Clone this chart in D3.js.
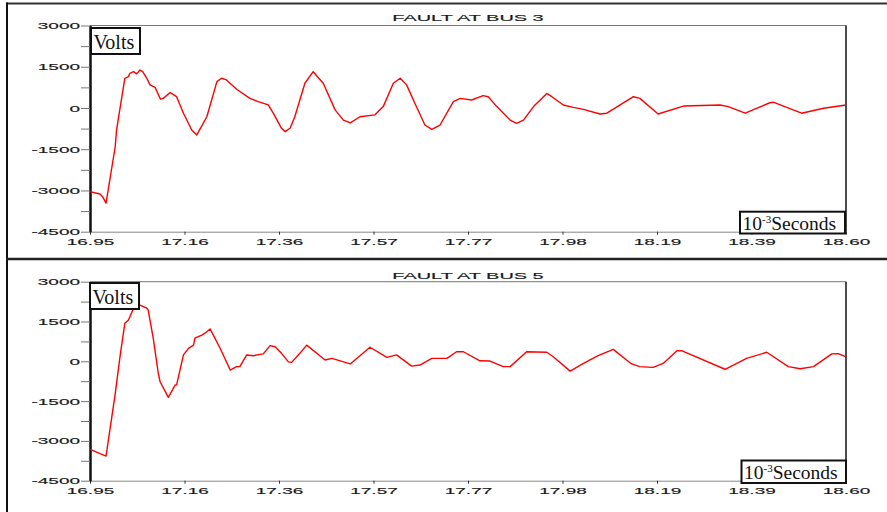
<!DOCTYPE html>
<html>
<head>
<meta charset="utf-8">
<script src="https://cdn.jsdelivr.net/npm/d3@7"></script>
<style>
  body { margin: 0; background: #fff; }
  svg { display: block; }
</style>
</head>
<body>
<svg id="chart" width="887" height="512"></svg>
<script>
// Time axis (10^-3 s) tick positions and their printed labels
const xTickValues = [16.95, 17.15625, 17.3625, 17.56875, 17.775, 17.98125, 18.1875, 18.39375, 18.60];
const xTickLabels = ["16.95", "17.16", "17.36", "17.57", "17.77", "17.98", "18.19", "18.39", "18.60"];

// Voltage axis ticks: labelled majors and unlabelled minors
const yMajorTicks = [-4500, -3000, -1500, 0, 1500, 3000];
const yMinorTicks = [-3750, -2250, -750, 750, 2250];

// Voltage samples [time, volts] for a fault at bus 3
const bus3Samples = [
  [16.950, -3040], [16.972, -3130], [16.978, -3240], [16.985, -3460], [17.005, -1410], [17.008, -800],
  [17.026, 1080], [17.034, 1140], [17.037, 1260], [17.045, 1320], [17.052, 1240], [17.059, 1380],
  [17.065, 1320], [17.074, 1080], [17.081, 840], [17.092, 750], [17.104, 320], [17.110, 350],
  [17.125, 560], [17.139, 410], [17.154, -190], [17.172, -800], [17.183, -980], [17.197, -560],
  [17.205, -320], [17.227, 960], [17.237, 1080], [17.248, 1020], [17.270, 680], [17.299, 350],
  [17.317, 230], [17.339, 110], [17.350, -190], [17.368, -740], [17.376, -860], [17.387, -730],
  [17.397, -320], [17.419, 900], [17.437, 1320], [17.459, 900], [17.485, -70], [17.503, -440],
  [17.518, -540], [17.539, -320], [17.572, -250], [17.590, 50], [17.612, 900], [17.627, 1080],
  [17.641, 840], [17.659, 170], [17.681, -620], [17.696, -780], [17.714, -620], [17.743, 230],
  [17.758, 350], [17.783, 290], [17.808, 450], [17.819, 410], [17.838, 50], [17.867, -440],
  [17.881, -560], [17.896, -440], [17.918, 50], [17.947, 530], [17.958, 410], [17.983, 110],
  [18.005, 20], [18.027, -50], [18.063, -220], [18.078, -190], [18.136, 410], [18.150, 350],
  [18.190, -220], [18.245, 70], [18.325, 110], [18.343, 50], [18.380, -190], [18.434, 190],
  [18.441, 210], [18.503, -190], [18.551, -10], [18.600, 110]
];

// Voltage samples [time, volts] for a fault at bus 5
const bus5Samples = [
  [16.950, -3320], [16.985, -3570], [17.005, -1230], [17.016, 240], [17.026, 1430], [17.034, 1560],
  [17.045, 2000], [17.053, 2200], [17.059, 2120], [17.074, 2000], [17.077, 1930], [17.088, 870],
  [17.099, -450], [17.103, -770], [17.121, -1360], [17.136, -890], [17.139, -890], [17.154, 240],
  [17.165, 490], [17.176, 610], [17.179, 870], [17.194, 990], [17.201, 1060], [17.212, 1220],
  [17.234, 490], [17.256, -330], [17.270, -200], [17.277, -200], [17.292, 240], [17.306, 210],
  [17.321, 260], [17.328, 280], [17.343, 590], [17.354, 550], [17.368, 300], [17.383, -20],
  [17.390, -40], [17.408, 300], [17.423, 610], [17.463, 50], [17.478, 110], [17.518, -100],
  [17.561, 530], [17.598, 150], [17.619, 240], [17.652, -180], [17.670, -140], [17.696, 110],
  [17.729, 110], [17.750, 360], [17.765, 360], [17.801, 20], [17.823, 10], [17.852, -200],
  [17.867, -200], [17.903, 360], [17.947, 340], [17.961, 170], [17.998, -370], [18.027, -80],
  [18.059, 210], [18.092, 450], [18.132, -100], [18.150, -200], [18.179, -230], [18.201, -80],
  [18.231, 400], [18.241, 400], [18.336, -300], [18.383, 110], [18.427, 340], [18.474, -200],
  [18.500, -280], [18.529, -200], [18.569, 280], [18.583, 290], [18.600, 170]
];

const panels = [
  { title: "FAULT AT BUS 3", samples: bus3Samples, top: 25.5, bottom: 231.7, titleY: 21,
    volts: { x: 91, y: 28, w: 49, h: 26 }, secs: { x: 740, y: 211.7, w: 105, h: 21.8 } },
  { title: "FAULT AT BUS 5", samples: bus5Samples, top: 281.7, bottom: 480.7, titleY: 278.5,
    volts: { x: 90, y: 283, w: 49, h: 26 }, secs: { x: 741.5, y: 460.5, w: 104.5, h: 22.5 } }
];

const left = 90, right = 846;
const sansFont = "'Liberation Sans', Arial, Helvetica, sans-serif";
const serifFont = "'Liberation Serif', 'Times New Roman', serif";
const stretch = 2.0;

const svg = d3.select("#chart");
svg.append("rect").attr("width", 887).attr("height", 512).attr("fill", "#fff");

// Outer frame of the figure
svg.append("line").attr("x1", 6).attr("x2", 887).attr("y1", 3.5).attr("y2", 3.5)
  .attr("stroke", "#333").attr("stroke-width", 2);
svg.append("line").attr("x1", 7).attr("x2", 7).attr("y1", 2.5).attr("y2", 512)
  .attr("stroke", "#111").attr("stroke-width", 2);
svg.append("line").attr("x1", 6).attr("x2", 887).attr("y1", 259).attr("y2", 259)
  .attr("stroke", "#222").attr("stroke-width", 2.5);

panels.forEach(p => {
  const x = d3.scaleLinear().domain([16.95, 18.60]).range([left, right]);
  const y = d3.scaleLinear().domain([-4500, 3000]).range([p.bottom, p.top]);
  const g = svg.append("g");

  // Panel title, wide sans lettering
  g.append("g").attr("transform", `translate(468,${p.titleY})`)
    .append("text")
    .attr("transform", "scale(2.1,1)")
    .attr("text-anchor", "middle")
    .attr("font-family", sansFont).attr("font-size", 9.5).attr("fill", "#1a1a1a")
    .attr("stroke", "#1a1a1a").attr("stroke-width", 0.15)
    .text(p.title);

  // Plot frame: top edge and right edge
  g.append("line").attr("x1", left).attr("x2", right).attr("y1", p.top).attr("y2", p.top)
    .attr("stroke", "#777").attr("stroke-width", 1);
  g.append("line").attr("x1", right).attr("x2", right).attr("y1", p.top).attr("y2", p.bottom)
    .attr("stroke", "#111").attr("stroke-width", 1.5);

  // Time axis
  const xAxis = g.append("g").attr("transform", `translate(0,${p.bottom})`)
    .call(d3.axisBottom(x).tickValues(xTickValues)
      .tickFormat((d, i) => xTickLabels[i]).tickSizeInner(3).tickSizeOuter(0));
  xAxis.select(".domain").attr("stroke", "#888").attr("stroke-width", 1);
  xAxis.selectAll(".tick line").attr("stroke", "#333");
  xAxis.selectAll(".tick text")
    .attr("y", 7).attr("dy", "0.71em")
    .attr("transform", `scale(${stretch},1)`)
    .attr("font-family", sansFont).attr("font-size", 9.5).attr("fill", "#1a1a1a")
    .attr("stroke", "#1a1a1a").attr("stroke-width", 0.15);

  // Voltage axis
  const allY = yMajorTicks.concat(yMinorTicks).sort((a, b) => a - b);
  const yAxis = g.append("g").attr("transform", `translate(${left},0)`)
    .call(d3.axisLeft(y).tickValues(allY)
      .tickFormat(d => yMajorTicks.includes(d) ? String(d) : "")
      .tickSizeInner(9).tickSizeOuter(0));
  yAxis.select(".domain").attr("stroke", "#111").attr("stroke-width", 2.5);
  yAxis.selectAll(".tick line").attr("stroke", "#777");
  yAxis.selectAll(".tick text")
    .attr("x", -5)
    .attr("transform", `scale(${stretch},1)`)
    .attr("font-family", sansFont).attr("font-size", 9.5).attr("fill", "#1a1a1a")
    .attr("stroke", "#1a1a1a").attr("stroke-width", 0.15);

  // Voltage trace
  const line = d3.line().x(d => x(d[0])).y(d => y(d[1])).curve(d3.curveLinear);
  g.append("path").datum(p.samples)
    .attr("d", line)
    .attr("fill", "none").attr("stroke", "#ff0000").attr("stroke-width", 1.4)
    .attr("stroke-linejoin", "round");

  // Unit boxes
  const vb = p.volts;
  g.append("rect").attr("x", vb.x).attr("y", vb.y).attr("width", vb.w).attr("height", vb.h)
    .attr("fill", "#fff").attr("stroke", "#111").attr("stroke-width", 2);
  g.append("text").attr("x", vb.x + 2.5).attr("y", vb.y + 20.5)
    .attr("font-family", serifFont).attr("font-size", 20).attr("fill", "#111")
    .text("Volts");

  const sb = p.secs;
  g.append("rect").attr("x", sb.x).attr("y", sb.y).attr("width", sb.w).attr("height", sb.h)
    .attr("fill", "#fff").attr("stroke", "#111").attr("stroke-width", 2);
  const st = g.append("text").attr("x", sb.x + 2.5).attr("y", sb.y + 18)
    .attr("font-family", serifFont).attr("font-size", 19.5).attr("fill", "#111");
  st.append("tspan").text("10");
  st.append("tspan").attr("dy", -7).attr("font-size", 11).text("-3");
  st.append("tspan").attr("dy", 7).text("Seconds");
});
</script>
</body>
</html>
